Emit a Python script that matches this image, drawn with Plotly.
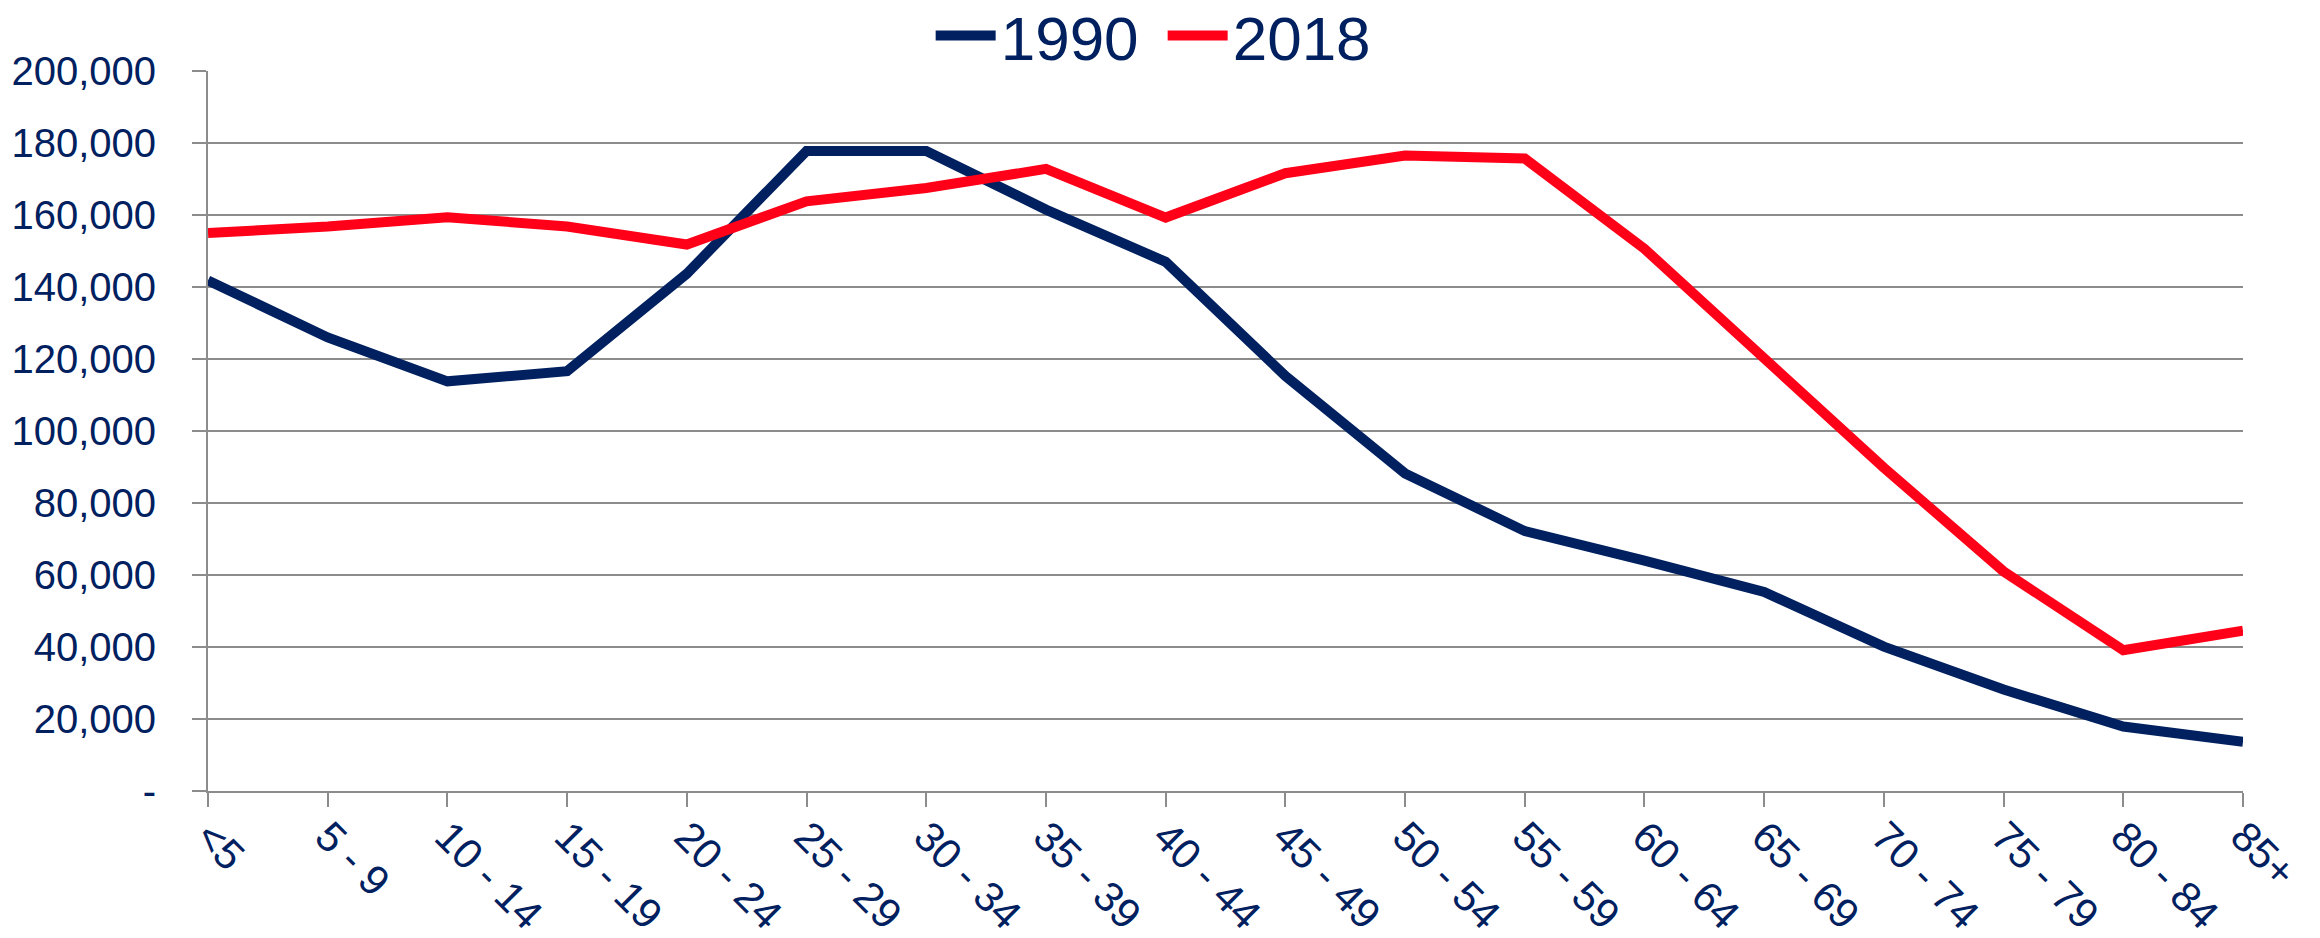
import plotly.graph_objects as go

categories = ["<5", "5 - 9", "10 - 14", "15 - 19", "20 - 24", "25 - 29", "30 - 34",
              "35 - 39", "40 - 44", "45 - 49", "50 - 54", "55 - 59", "60 - 64",
              "65 - 69", "70 - 74", "75 - 79", "80 - 84", "85+"]
pop_1990 = [141800, 126000, 113800, 116600, 143700, 177800, 177800, 161500, 147000,
            115300, 88200, 72200, 64000, 55300, 40100, 28200, 17900, 13700]
pop_2018 = [155000, 156800, 159400, 156800, 151800, 163800, 167500, 172800, 159300,
            171600, 176500, 175700, 150600, 120600, 89800, 61000, 39100, 44500]
y_tickvals = [0, 20000, 40000, 60000, 80000, 100000, 120000, 140000, 160000, 180000, 200000]
y_ticktext = ["-", "20,000", "40,000", "60,000", "80,000", "100,000", "120,000",
              "140,000", "160,000", "180,000", "200,000"]

NAVY = "#002060"
RED = "#ff0018"
GRID = "#8c8c8c"
FONT = "Liberation Sans, Arial, sans-serif"

fig = go.Figure()
fig.add_trace(go.Scatter(x=categories, y=pop_1990, name="1990", mode="lines",
                         line=dict(color=NAVY, width=10)))
fig.add_trace(go.Scatter(x=categories, y=pop_2018, name="2018", mode="lines",
                         line=dict(color=RED, width=10)))

# the page body has an 8px margin, so the figure is offset by 8px
fig.update_layout(
    width=2320, height=938,
    margin=dict(l=200, r=85, t=63, b=155, autoexpand=False),
    paper_bgcolor="white", plot_bgcolor="white",
    showlegend=True,
    legend=dict(orientation="h", xref="container", yref="paper",
                x=0.4977, xanchor="center", y=1.0490, yanchor="middle",
                font=dict(family=FONT, size=62, color=NAVY),
                entrywidth=157, itemwidth=60,
                bgcolor="rgba(0,0,0,0)", tracegroupgap=0),
    xaxis=dict(type="category", range=[0, 17], showgrid=False, automargin=False,
               showline=True, linecolor=GRID, linewidth=2,
               ticks="outside", ticklen=14, tickcolor=GRID, tickwidth=2,
               tickangle=45, ticklabelstandoff=-12,
               tickfont=dict(family=FONT, size=42, color=NAVY)),
    yaxis=dict(range=[0, 200000], tickvals=y_tickvals, ticktext=y_ticktext,
               automargin=False,
               showgrid=True, gridcolor=GRID, gridwidth=2,
               showline=True, linecolor=GRID, linewidth=2,
               ticks="outside", ticklen=14, tickcolor=GRID, tickwidth=2,
               ticklabelstandoff=28, zeroline=False,
               tickfont=dict(family=FONT, size=40, color=NAVY)),
)

fig.write_html("out.html")
